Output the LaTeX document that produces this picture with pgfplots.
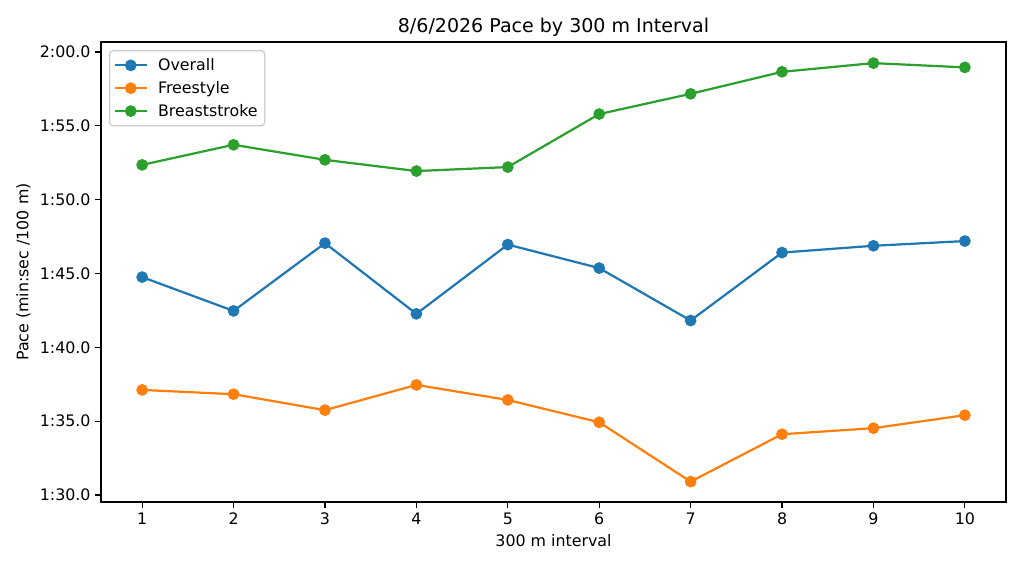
\documentclass[border=0pt]{standalone}
\usepackage{pgfplots}
\pgfplotsset{compat=1.18}
\usepackage{fontspec}
\setmainfont{DejaVu Sans}
\definecolor{tabblue}{HTML}{1F77B4}
\definecolor{taborange}{HTML}{FF7F0E}
\definecolor{tabgreen}{HTML}{2CA02C}
\pgfplotstableread{
x overall free breast
1 104.76 97.12 112.36
2 102.47 96.83 113.72
3 107.06 95.75 112.70
4 102.27 97.46 111.94
5 106.96 96.44 112.21
6 105.37 94.93 115.80
7 101.82 90.91 117.17
8 106.42 94.12 118.66
9 106.88 94.53 119.25
10 107.20 95.41 118.96
}\data
\begin{document}
\begin{tikzpicture}
\begin{axis}[
  name=ax,
  scale only axis,
  width=651.6pt, height=331.2pt,
  xmin=0.55, xmax=10.45,
  ymin=89.53, ymax=120.68,
  xtick={1,2,...,10},
  ytick={90,95,100,105,110,115,120},
  yticklabels={1:30.0,1:35.0,1:40.0,1:45.0,1:50.0,1:55.0,2:00.0},
  /pgf/number format/assume math mode=true,
  tick label style={font=\fontsize{11.4}{13.7}\selectfont, black},
  xtick pos=bottom, ytick pos=left,
  tick align=outside,
  major tick length=4pt,
  every tick/.style={black, line width=0.9pt},
  axis line style={black, line width=0.9pt},
  title={8/6/2026 Pace by 300 m Interval},
  title style={font=\fontsize{13.7}{16.4}\selectfont, yshift=-5.5pt},
  xlabel={300 m interval},
  ylabel={Pace (min:sec /100 m)},
  label style={font=\fontsize{11.4}{13.7}\selectfont},
  legend style={at={([xshift=5.8pt,yshift=-5.8pt]axis description cs:0,1)}, anchor=north west,
    draw=black!20, line width=0.9pt, rounded corners=2.5pt, font=\fontsize{11.4}{13.7}\selectfont,
    inner xsep=3pt, inner ysep=3.5pt, row sep=2.3pt},
  legend cell align=left,
  legend image code/.code={\draw[mark repeat=2,mark phase=2] plot coordinates {(0cm,0cm) (0.4cm,0cm) (0.8cm,0cm)}; \path (0.8cm+5.5pt,0cm);},
  every axis plot/.append style={line width=1.6pt, mark=*, mark size=3.4pt, mark options={solid}},
]
\addplot[color=tabblue] table[x=x, y=overall] {\data};
\addlegendentry{Overall}
\addplot[color=taborange] table[x=x, y=free] {\data};
\addlegendentry{Freestyle}
\addplot[color=tabgreen] table[x=x, y=breast] {\data};
\addlegendentry{Breaststroke}
\end{axis}
\pgfresetboundingbox
\path[use as bounding box] ([xshift=-72.72pt,yshift=-48.24pt]ax.south west) rectangle ([xshift=12.96pt,yshift=30.24pt]ax.north east);
\end{tikzpicture}
\end{document}
